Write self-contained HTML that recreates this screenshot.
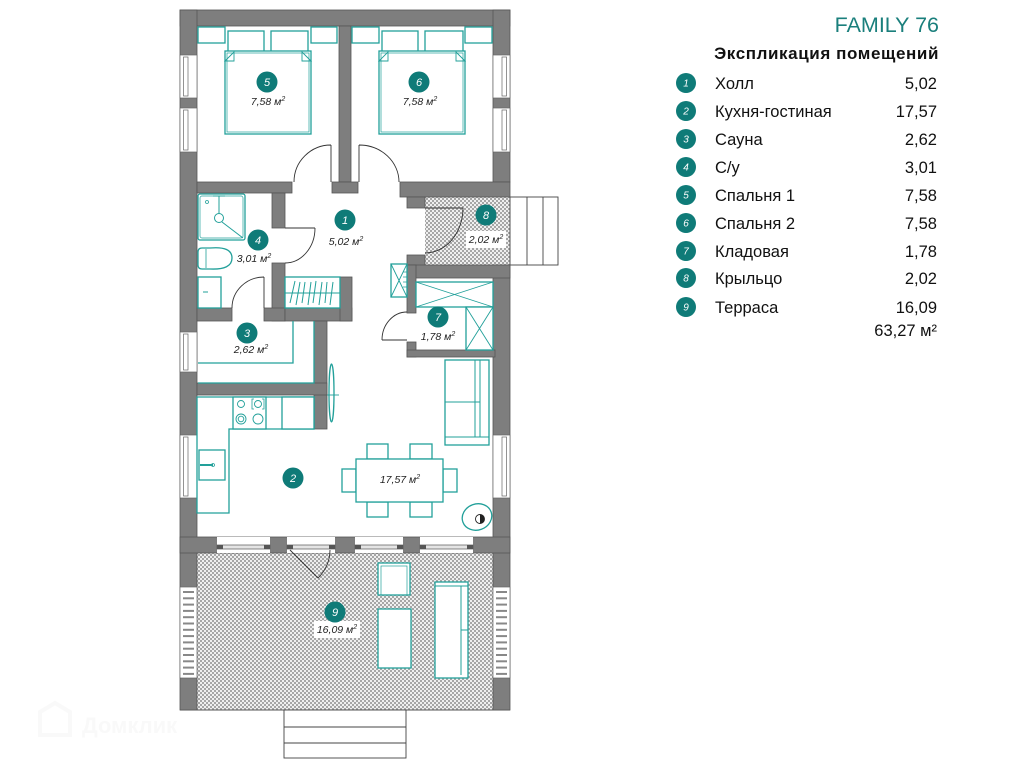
<!DOCTYPE html>
<html><head><meta charset="utf-8"><style>
html,body{margin:0;padding:0;background:#fff;}
svg{display:block;}
text{font-family:"Liberation Sans",Arial,sans-serif;}
</style></head><body>
<svg width="1024" height="768" viewBox="0 0 1024 768" xmlns="http://www.w3.org/2000/svg">
<defs>
<pattern id="h" width="4" height="4" patternUnits="userSpaceOnUse">
<rect width="4" height="4" fill="#efefef"/>
<rect width="2" height="2" fill="#a6a6a6"/>
<rect x="2" y="2" width="2" height="2" fill="#a6a6a6"/>
</pattern>
</defs>
<rect width="1024" height="768" fill="#fff"/>

<!-- hatched areas -->
<rect x="425" y="197" width="85" height="68" fill="url(#h)"/>
<rect x="197" y="553" width="296" height="157" fill="url(#h)"/>
<line x1="180" y1="710" x2="510" y2="710" stroke="#555" stroke-width="1"/>

<!-- stairs -->
<g fill="#fff" stroke="#444" stroke-width="0.9">
<rect x="510" y="197" width="48" height="68"/>
<line x1="527" y1="197" x2="527" y2="265"/>
<line x1="543" y1="197" x2="543" y2="265"/>
<rect x="284" y="710" width="122" height="48"/>
<line x1="284" y1="727" x2="406" y2="727"/>
<line x1="284" y1="743" x2="406" y2="743"/>
</g>

<!-- walls -->
<g fill="#7e7e7e" stroke="#555" stroke-width="0.8">
<rect x="180" y="10" width="330" height="16"/>
<rect x="180" y="10" width="17" height="700"/>
<rect x="493" y="10" width="17" height="172"/>
<rect x="493" y="265" width="17" height="445"/>
<rect x="339" y="26" width="12" height="156"/>
<rect x="332" y="182" width="26" height="11"/>
<rect x="197" y="182" width="95" height="11"/>
<rect x="400" y="182" width="110" height="15"/>
<rect x="407" y="197" width="18" height="11"/>
<rect x="272" y="193" width="13" height="35"/>
<rect x="272" y="263" width="13" height="58"/>
<rect x="197" y="308" width="35" height="13"/>
<rect x="264" y="308" width="21" height="13"/>
<rect x="285" y="308" width="67" height="13"/>
<rect x="340" y="277" width="12" height="44"/>
<rect x="314" y="321" width="13" height="108"/>
<rect x="197" y="383" width="130" height="12"/>
<rect x="407" y="255" width="18" height="12"/>
<rect x="407" y="265" width="103" height="13"/>
<rect x="407" y="265" width="9" height="48"/>
<rect x="407" y="342" width="9" height="15"/>
<rect x="407" y="350" width="88" height="7"/>
<rect x="180" y="537" width="330" height="16"/>
</g>

<!-- side windows -->
<g fill="#fff" stroke="#666" stroke-width="0.7">
<rect x="180" y="55" width="17" height="43"/><rect x="183.5" y="57" width="4.5" height="39"/>
<rect x="180" y="108" width="17" height="44"/><rect x="183.5" y="110" width="4.5" height="40"/>
<rect x="180" y="332" width="17" height="40"/><rect x="183.5" y="334" width="4.5" height="36"/>
<rect x="180" y="435" width="17" height="63"/><rect x="183.5" y="437" width="4.5" height="59"/>
<rect x="493" y="55" width="17" height="43"/><rect x="502" y="57" width="4.5" height="39"/>
<rect x="493" y="108" width="17" height="44"/><rect x="502" y="110" width="4.5" height="40"/>
<rect x="493" y="435" width="17" height="63"/><rect x="502" y="437" width="4.5" height="59"/>
<rect x="180" y="587" width="17" height="91"/>
<rect x="493" y="587" width="17" height="91"/>
</g>
<!-- railings -->
<g fill="#888">
<rect x="183" y="591" width="11" height="2"/><rect x="183" y="597.3" width="11" height="2"/><rect x="183" y="603.6" width="11" height="2"/><rect x="183" y="609.9" width="11" height="2"/><rect x="183" y="616.2" width="11" height="2"/><rect x="183" y="622.5" width="11" height="2"/><rect x="183" y="628.8" width="11" height="2"/><rect x="183" y="635.1" width="11" height="2"/><rect x="183" y="641.4" width="11" height="2"/><rect x="183" y="647.7" width="11" height="2"/><rect x="183" y="654" width="11" height="2"/><rect x="183" y="660.3" width="11" height="2"/><rect x="183" y="666.6" width="11" height="2"/><rect x="183" y="672.9" width="11" height="2"/>
<rect x="496" y="591" width="11" height="2"/><rect x="496" y="597.3" width="11" height="2"/><rect x="496" y="603.6" width="11" height="2"/><rect x="496" y="609.9" width="11" height="2"/><rect x="496" y="616.2" width="11" height="2"/><rect x="496" y="622.5" width="11" height="2"/><rect x="496" y="628.8" width="11" height="2"/><rect x="496" y="635.1" width="11" height="2"/><rect x="496" y="641.4" width="11" height="2"/><rect x="496" y="647.7" width="11" height="2"/><rect x="496" y="654" width="11" height="2"/><rect x="496" y="660.3" width="11" height="2"/><rect x="496" y="666.6" width="11" height="2"/><rect x="496" y="672.9" width="11" height="2"/>
</g>

<!-- bottom glazing -->
<g stroke="#555" stroke-width="0.7">
<rect x="217" y="537" width="53" height="16" fill="#fff" stroke="none"/>
<rect x="287" y="537" width="48" height="16" fill="#fff" stroke="none"/>
<rect x="355" y="537" width="48" height="16" fill="#fff" stroke="none"/>
<rect x="420" y="537" width="53" height="16" fill="#fff" stroke="none"/>
<rect x="217" y="545" width="53" height="4" fill="#e4e4e4"/>
<rect x="287" y="545" width="48" height="4" fill="#e4e4e4"/>
<rect x="355" y="545" width="48" height="4" fill="#e4e4e4"/>
<rect x="420" y="545" width="53" height="4" fill="#e4e4e4"/>
</g>
<g fill="#555">
<rect x="217" y="545" width="6" height="4"/><rect x="264" y="545" width="6" height="4"/>
<rect x="287" y="545" width="6" height="4"/><rect x="329" y="545" width="6" height="4"/>
<rect x="355" y="545" width="6" height="4"/><rect x="397" y="545" width="6" height="4"/>
<rect x="420" y="545" width="6" height="4"/><rect x="467" y="545" width="6" height="4"/>
</g>

<!-- doors -->
<g fill="none" stroke="#333" stroke-width="0.9">
<path d="M331,145 V182 M331,145 A37,37 0 0,0 294,182"/>
<path d="M359,145 V182 M359,145 A40,37 0 0,1 399,182"/>
<path d="M285,228 H315 M315,228 A30,35 0 0,1 285,263"/>
<path d="M264,308 V277 M264,277 A32,31 0 0,0 232,308"/>
<path d="M425,208 H463 M463,208 A38,45 0 0,1 425,253"/>
<path d="M407,340 H382 M382,340 A25,28 0 0,1 407,312"/>
<path d="M290,550 L318,578 M318,578 A40,40 0 0,0 330,550"/>
</g>

<!-- furniture -->
<g fill="#fff" stroke="#22a09a" stroke-width="1.3">
<!-- bedroom 5 -->
<rect x="198" y="27" width="27" height="16"/>
<rect x="311" y="27" width="26" height="16"/>
<rect x="228" y="31" width="36" height="22"/>
<rect x="271" y="31" width="37" height="22"/>
<rect x="225" y="51" width="86" height="83"/>
<rect x="227" y="53" width="82" height="79" fill="none" stroke-width="0.7"/>
<path d="M225,61 L234,52 V61 Z M311,61 L302,52 V61 Z" fill="none" stroke-width="0.9"/>
<!-- bedroom 6 -->
<rect x="352" y="27" width="27" height="16"/>
<rect x="465" y="27" width="27" height="16"/>
<rect x="382" y="31" width="36" height="22"/>
<rect x="425" y="31" width="38" height="22"/>
<rect x="379" y="51" width="86" height="83"/>
<rect x="381" y="53" width="82" height="79" fill="none" stroke-width="0.7"/>
<path d="M379,61 L388,52 V61 Z M465,61 L456,52 V61 Z" fill="none" stroke-width="0.9"/>
<!-- bathroom -->
<rect x="198" y="194" width="47" height="46" rx="2"/>
<rect x="200" y="196" width="43" height="42" rx="2" fill="none" stroke-width="0.7"/>
<path d="M213,196 H225 M219,196 V214 M222,222 L243,238" fill="none" stroke-width="1"/>
<circle cx="219" cy="218" r="4.5" fill="none" stroke-width="1"/>
<circle cx="207" cy="202" r="1.5" fill="none" stroke-width="0.8"/>
<path d="M202,248 H210 Q232,246 232,258 Q232,270 210,269 H202 Q198,269 198,265 V252 Q198,248 202,248 Z"/>
<line x1="206" y1="249" x2="206" y2="268" stroke-width="0.8"/>
<rect x="198" y="277" width="23" height="31"/>
<path d="M203,292 H208" stroke-width="1"/>
<!-- wardrobe -->
<rect x="285" y="277" width="55" height="31"/>
<line x1="285" y1="293" x2="340" y2="293" stroke-width="0.9"/>
<path d="M290,303 L295,281 M296,305 L300,282 M302,303 L305,282 M308,305 L311,282 M313,303 L316,281 M319,305 L322,282 M325,303 L327,282 M330,305 L333,282" fill="none" stroke-width="1"/>
<!-- sauna -->
<path d="M198,383 H314 V321" fill="none"/>
<path d="M293,321 V363 H198" fill="none"/>
<!-- kitchen -->
<path d="M197,397 H314 V429 H229 V513 H197 Z"/>
<rect x="233" y="397" width="33" height="32"/>
<rect x="282" y="397" width="32" height="32"/>
<circle cx="241" cy="404" r="3.5" fill="none" stroke-width="0.9"/>
<circle cx="258" cy="404" r="3.5" fill="none" stroke-width="0.9"/>
<path d="M254,399 H252 V409 H254 M262,399 H264 V409 H262" fill="none" stroke-width="0.8"/>
<circle cx="241" cy="419" r="5" fill="none" stroke-width="0.9"/>
<circle cx="241" cy="419" r="2.8" fill="none" stroke-width="0.9"/>
<circle cx="258" cy="419" r="5" fill="none" stroke-width="0.9"/>
<rect x="199" y="450" width="26" height="30"/>
<path d="M200,465 H213" stroke-width="2"/>
<circle cx="213" cy="465" r="1.5" fill="none" stroke-width="0.8"/>
<!-- sliding door -->
<ellipse cx="331.5" cy="393" rx="2.5" ry="29" fill="none"/>
<line x1="327" y1="395" x2="339" y2="395" stroke-width="0.9"/>
<!-- boiler/shelf boxes -->
<rect x="391" y="264" width="16" height="33"/>
<path d="M391,264 L407,297 M407,264 L391,297" stroke-width="0.9"/>
<path d="M403,272 H407 M403,277 H407 M403,282 H407 M403,287 H407" stroke-width="0.8"/>
<rect x="416" y="282" width="77" height="25"/>
<path d="M416,282 L493,307 M493,282 L416,307" stroke-width="0.9"/>
<rect x="466" y="307" width="27" height="43"/>
<path d="M466,307 L493,350 M493,307 L466,350" stroke-width="0.9"/>
<!-- living sofa -->
<rect x="445" y="360" width="44" height="85"/>
<path d="M445,402 H480 M445,437 H489 M475,360 V437 M480,360 V437" fill="none" stroke-width="1"/>
<!-- dining -->
<rect x="367" y="444" width="21" height="15"/>
<rect x="410" y="444" width="22" height="15"/>
<rect x="367" y="502" width="21" height="15"/>
<rect x="410" y="502" width="22" height="15"/>
<rect x="342" y="469" width="14" height="23"/>
<rect x="443" y="469" width="14" height="23"/>
<rect x="356" y="459" width="87" height="43"/>
<!-- plant -->
<ellipse cx="477" cy="517" rx="15" ry="13" transform="rotate(-20 477 517)"/>
<!-- terrace furniture -->
<rect x="378" y="563" width="32" height="32"/>
<rect x="381" y="566" width="26" height="29" fill="none" stroke-width="0.7"/>
<rect x="378" y="609" width="33" height="59"/>
<rect x="435" y="582" width="33" height="96"/>
<path d="M461,586 V675 M461,630 H468 M435,586 H468" fill="none" stroke-width="1"/>
</g>
<circle cx="480" cy="519" r="4.5" fill="#fff" stroke="#222" stroke-width="0.9"/>
<path d="M480,514.5 A4.5,4.5 0 0,1 480,523.5 Z" fill="#222"/>

<!-- label backgrounds -->
<rect x="466" y="231" width="40" height="17" fill="#fff"/>
<rect x="314" y="621" width="46" height="17" fill="#fff"/>

<!-- room labels -->
<g fill="#0f7b78">
<circle cx="267" cy="82" r="10.5"/>
<circle cx="419" cy="82" r="10.5"/>
<circle cx="345" cy="220" r="10.5"/>
<circle cx="258" cy="240" r="10.5"/>
<circle cx="486" cy="215" r="10.5"/>
<circle cx="247" cy="333" r="10.5"/>
<circle cx="438" cy="317" r="10.5"/>
<circle cx="293" cy="478" r="10.5"/>
<circle cx="335" cy="612" r="10.5"/>
</g>
<g fill="#fff" font-size="11" font-style="italic" text-anchor="middle">
<text x="267" y="86">5</text>
<text x="419" y="86">6</text>
<text x="345" y="224">1</text>
<text x="258" y="244">4</text>
<text x="486" y="219">8</text>
<text x="247" y="337">3</text>
<text x="438" y="321">7</text>
<text x="293" y="482">2</text>
<text x="335" y="616">9</text>
</g>
<g fill="#222" font-size="10.5" font-style="italic" text-anchor="middle">
<text x="268" y="105">7,58 м<tspan font-size="7" dy="-4">2</tspan></text>
<text x="420" y="105">7,58 м<tspan font-size="7" dy="-4">2</tspan></text>
<text x="346" y="245">5,02 м<tspan font-size="7" dy="-4">2</tspan></text>
<text x="254" y="262">3,01 м<tspan font-size="7" dy="-4">2</tspan></text>
<text x="486" y="243">2,02 м<tspan font-size="7" dy="-4">2</tspan></text>
<text x="251" y="353">2,62 м<tspan font-size="7" dy="-4">2</tspan></text>
<text x="438" y="340">1,78 м<tspan font-size="7" dy="-4">2</tspan></text>
<text x="400" y="483">17,57 м<tspan font-size="7" dy="-4">2</tspan></text>
<text x="337" y="633">16,09 м<tspan font-size="7" dy="-4">2</tspan></text>
</g>

<!-- watermark -->
<text x="82" y="733" font-size="22" font-weight="bold" fill="#f9f9f9">Домклик</text>
<path d="M40,712 L55,703 L70,712 V735 H40 Z" fill="none" stroke="#f9f9f9" stroke-width="4"/>

<!-- legend -->
<text x="939" y="32" font-size="21.5" fill="#1a7f7c" text-anchor="end">FAMILY 76</text>
<text x="939" y="59" font-size="17" font-weight="bold" fill="#111" text-anchor="end" letter-spacing="0.6">Экспликация помещений</text>
<g fill="#0f7b78">
<circle cx="686" cy="83" r="10"/>
<circle cx="686" cy="111" r="10"/>
<circle cx="686" cy="139" r="10"/>
<circle cx="686" cy="167" r="10"/>
<circle cx="686" cy="195" r="10"/>
<circle cx="686" cy="223" r="10"/>
<circle cx="686" cy="251" r="10"/>
<circle cx="686" cy="278" r="10"/>
<circle cx="686" cy="307" r="10"/>
</g>
<g fill="#fff" font-size="10" font-style="italic" text-anchor="middle">
<text x="686" y="86.5">1</text>
<text x="686" y="114.5">2</text>
<text x="686" y="142.5">3</text>
<text x="686" y="170.5">4</text>
<text x="686" y="198.5">5</text>
<text x="686" y="226.5">6</text>
<text x="686" y="254.5">7</text>
<text x="686" y="281.5">8</text>
<text x="686" y="310.5">9</text>
</g>
<g fill="#111" font-size="16.5">
<text x="715" y="89">Холл</text>
<text x="715" y="117">Кухня-гостиная</text>
<text x="715" y="145">Сауна</text>
<text x="715" y="173">С/у</text>
<text x="715" y="201">Спальня 1</text>
<text x="715" y="229">Спальня 2</text>
<text x="715" y="257">Кладовая</text>
<text x="715" y="284">Крыльцо</text>
<text x="715" y="313">Терраса</text>
</g>
<g fill="#111" font-size="16.5" text-anchor="end">
<text x="937" y="89">5,02</text>
<text x="937" y="117">17,57</text>
<text x="937" y="145">2,62</text>
<text x="937" y="173">3,01</text>
<text x="937" y="201">7,58</text>
<text x="937" y="229">7,58</text>
<text x="937" y="257">1,78</text>
<text x="937" y="284">2,02</text>
<text x="937" y="313">16,09</text>
<text x="937" y="336">63,27 м²</text>
</g>
</svg>
</body></html>
